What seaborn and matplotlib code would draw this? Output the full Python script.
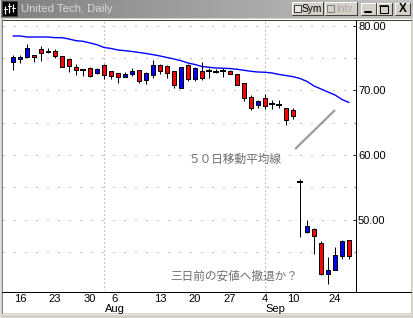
import numpy as np
import pandas as pd
import matplotlib
matplotlib.use("Agg")
import matplotlib.pyplot as plt
import seaborn as sns
from matplotlib.patches import Rectangle
from matplotlib.colors import LinearSegmentedColormap

# ---------------- data ----------------
dates = ["07-13", "07-16", "07-17", "07-18", "07-19", "07-20", "07-23", "07-24", "07-25", "07-26",
         "07-27", "07-30", "07-31", "08-01", "08-02", "08-03", "08-06", "08-07", "08-08", "08-09",
         "08-10", "08-13", "08-14", "08-15", "08-16", "08-17", "08-20", "08-21", "08-22", "08-23",
         "08-24", "08-27", "08-28", "08-29", "08-30", "08-31", "09-04", "09-05", "09-06", "09-07",
         "09-10", "09-17", "09-18", "09-19", "09-20", "09-21", "09-24", "09-25", "09-26"]
opens = [74.34, 74.90, 75.16, 75.47, 76.40, 76.08, 76.09, 75.27, 74.85, 73.60,
         73.15, 73.42, 72.74, 73.88, 73.00, 72.64, 72.12, 72.58, 73.15, 71.56,
         72.38, 73.93, 73.72, 72.95, 70.32, 73.97, 71.81, 73.00, 73.00, 72.89,
         73.04, 73.00, 72.53, 71.14, 68.98, 67.74, 68.82, 67.85, 67.74, 67.23,
         66.97, 55.89, 48.07, 48.53, 46.37, 41.58, 42.19, 44.45, 46.88]
highs = [75.42, 75.40, 77.20, 75.47, 76.80, 76.50, 76.40, 75.36, 74.85, 74.10,
         73.30, 73.66, 73.46, 74.03, 73.00, 72.64, 72.90, 73.40, 73.15, 72.80,
         74.65, 74.10, 73.90, 72.95, 73.57, 74.08, 73.62, 74.34, 73.42, 73.31,
         73.51, 73.15, 72.60, 71.14, 69.24, 68.47, 69.50, 68.56, 68.50, 67.23,
         67.33, 56.31, 49.97, 48.69, 46.68, 44.20, 45.75, 46.88, 46.88]
lows = [73.20, 74.28, 75.05, 74.44, 74.60, 75.83, 75.00, 73.57, 72.80, 72.40,
        72.30, 72.12, 72.58, 71.72, 71.72, 71.10, 72.12, 72.27, 71.10, 70.94,
        71.96, 72.58, 71.96, 70.40, 70.32, 71.45, 71.50, 71.60, 71.96, 72.64,
        72.12, 72.58, 70.83, 68.36, 66.97, 67.23, 67.08, 67.12, 67.23, 64.70,
        65.53, 47.39, 47.90, 44.76, 41.42, 40.03, 42.19, 43.99, 43.94]
closes = [75.16, 75.15, 76.55, 75.12, 75.73, 75.89, 75.27, 73.66, 73.72, 73.10,
          73.15, 72.27, 73.31, 72.38, 72.18, 72.12, 72.53, 73.00, 71.45, 72.64,
          73.93, 72.95, 72.64, 70.79, 73.57, 71.72, 73.42, 71.96, 73.00, 72.89,
          73.04, 72.58, 70.83, 68.87, 67.33, 68.31, 67.64, 67.85, 67.74, 65.47,
          66.04, 55.89, 49.00, 47.55, 41.58, 42.24, 44.51, 46.73, 44.45]
ma50 = [78.41, 78.41, 78.25, 78.25, 78.25, 78.25, 78.15, 78.15, 77.94, 77.68,
        77.59, 77.33, 77.06, 76.63, 76.48, 76.24, 76.14, 76.01, 75.86, 75.70,
        75.52, 75.32, 75.08, 74.85, 74.59, 74.23, 74.00, 73.69, 73.57, 73.46,
        73.42, 73.38, 73.26, 73.11, 72.95, 72.84, 72.80, 72.69, 72.46, 72.30,
        72.12, 71.84, 71.38, 70.68, 70.22, 69.75, 69.29, 68.59, 68.13]

day_tick_dates = ["07-16", "07-23", "07-30", "08-06", "08-13", "08-20", "08-27", "09-04", "09-10", "09-24"]
day_tick_labels = ["16", "23", "30", "6", "13", "20", "27", "4", "10", "24"]
month_dates = ["08-01", "09-04"]
month_labels = ["Aug", "Sep"]
y_major = [50, 60, 70, 80]
y_minor = [45, 55, 65, 75]

title_text = "United Tech, Daily"
ma_label = "５０日移動平均線"
comment = "三日前の安値へ撤退か？"

# ---------------- style ----------------
sns.set_theme(style="white")
plt.rcParams['font.family'] = ['Liberation Sans', 'Noto Sans CJK JP', 'DejaVu Sans']

PX = 0.72  # one pixel in points at dpi 100
W, H = 414, 318
fig = plt.figure(figsize=(W / 100, H / 100), dpi=100, facecolor='#d4d0c8')

# ---------- window chrome (pixel coordinate background axes) ----------
bg = fig.add_axes([0, 0, 1, 1], zorder=0)
bg.set_xlim(0, W)
bg.set_ylim(H, 0)
bg.axis('off')

grad = np.linspace(0, 1, 256).reshape(1, -1)
cmap = LinearSegmentedColormap.from_list('tb', ['#808080', '#c4c4c4'])
bg.imshow(grad, extent=(0, W, 18, 0), aspect='auto', cmap=cmap, zorder=0)
bg.set_xlim(0, W)
bg.set_ylim(H, 0)

# icon
bg.add_patch(Rectangle((2, 1), 15, 15, facecolor='black', edgecolor='#404040', lw=PX, zorder=1))
for xx, y0, y1 in [(5.5, 6, 14), (9.5, 3, 13), (13.5, 4, 12)]:
    bg.plot([xx, xx], [y0, y1], color='white', lw=1.2 * PX, zorder=2, solid_capstyle='butt')
bg.plot([4, 7], [9, 9], color='white', lw=PX, zorder=2)
bg.plot([8, 11], [6, 6], color='white', lw=PX, zorder=2)
bg.plot([12, 15], [8, 8], color='white', lw=PX, zorder=2)
bg.text(21, 9, title_text, color='#d8d8d8', fontsize=8.2, va='center', ha='left', zorder=2)


def button(x, y, w, h):
    bg.add_patch(Rectangle((x, y), w, h, facecolor='#d4d0c8', edgecolor='none', zorder=1))
    bg.plot([x, x + w], [y, y], color='white', lw=PX, zorder=2)
    bg.plot([x, x], [y, y + h], color='white', lw=PX, zorder=2)
    bg.plot([x, x + w], [y + h, y + h], color='#404040', lw=PX, zorder=2)
    bg.plot([x + w, x + w], [y, y + h], color='#404040', lw=PX, zorder=2)


button(292, 2, 31, 13)
bg.add_patch(Rectangle((294, 5), 7, 7, facecolor='#e8e8e8', edgecolor='#404040', lw=PX, zorder=3))
bg.text(302, 9, "Sym", fontsize=7.3, va='center', ha='left', color='black', zorder=3)
button(325, 2, 32, 13)
bg.add_patch(Rectangle((327, 5), 7, 7, facecolor='#d4d0c8', edgecolor='#808080', lw=PX, zorder=3))
bg.text(336.5, 9.5, "Intv", fontsize=7.3, va='center', ha='left', color='white', zorder=3)
bg.text(336, 9, "Intv", fontsize=7.3, va='center', ha='left', color='#9a9a9a', zorder=3)
button(361, 3, 15, 12)
bg.plot([365, 371], [12, 12], color='black', lw=2 * PX, zorder=3)
button(377, 3, 15, 12)
bg.add_patch(Rectangle((380.5, 5.5), 8, 7, facecolor='none', edgecolor='black', lw=PX, zorder=3))
bg.plot([380.5, 388.5], [6.2, 6.2], color='black', lw=1.5 * PX, zorder=3)
button(395, 3, 15, 12)
bg.text(402.5, 9.3, "X", fontsize=8.5, fontweight='bold', va='center', ha='center', color='black', zorder=3)

# white panel with sunken border
bg.add_patch(Rectangle((2, 19), 409, 294, facecolor='white', edgecolor='none', zorder=1))
bg.plot([2, 411], [19.5, 19.5], color='#404040', lw=PX, zorder=2)
bg.plot([2.5, 2.5], [19, 313], color='#808080', lw=PX, zorder=2)
bg.plot([2, 411], [313.5, 313.5], color='#e8e8e8', lw=PX, zorder=2)
bg.plot([0.5, 0.5], [0, 318], color='#e0e0e0', lw=PX, zorder=2)
# full-width bottom axis line
bg.plot([2, 411], [291.5, 291.5], color='black', lw=PX, zorder=3)

# ---------------- main chart ----------------
left_px, right_px, top_px, bottom_px = 3, 356, 20, 291
ax = fig.add_axes([left_px / W, (H - bottom_px) / H, (right_px - left_px) / W, (bottom_px - top_px) / H], zorder=2)
ax.patch.set_alpha(0)

x = np.arange(len(dates))
o = np.array(opens)
h = np.array(highs)
l = np.array(lows)
c = np.array(closes)
up = c > o + 0.02
down = c < o - 0.02
doji = ~(up | down)

# grid
for lv in y_major + y_minor:
    ax.axhline(lv, color='#8c8c8c', lw=PX, linestyle=(0, (1, 10)), zorder=1)
for md in month_dates:
    ax.axvline(dates.index(md), color='#8c8c8c', lw=PX, linestyle=(0, (1, 3)), zorder=1)

# moving average
sns.lineplot(x=x, y=ma50, ax=ax, color='#0000ff', lw=1.0, zorder=2, legend=False)

# candles
ax.vlines(x, l, h, color='black', lw=PX, zorder=3)
ax.bar(x[up], (c - o)[up], bottom=o[up], width=0.62, color='#0000ff', edgecolor='black', lw=PX, zorder=4)
ax.bar(x[down], (o - c)[down], bottom=c[down], width=0.62, color='#ff0000', edgecolor='black', lw=PX, zorder=4)
ax.hlines(o[doji], x[doji] - 0.36, x[doji] + 0.36, color='black', lw=2 * PX, zorder=4)

# annotations
ax.plot([40.3, 46.0], [60.93, 66.96], color='#a0a0a0', lw=1.7, zorder=2, solid_capstyle='butt')
ax.text(31.7, 59.3, ma_label, ha='center', va='center', fontsize=8.4, color='#6e6e6e',
        family=['Noto Sans CJK JP', 'DejaVu Sans'])
ax.text(31.6, 41.35, comment, ha='center', va='center', fontsize=8.4, color='#6e6e6e',
        family=['Noto Sans CJK JP', 'DejaVu Sans'])

ax.set_xlim(-1.43, 49.0)
ax.set_ylim(38.99, 80.88)
ax.set_xlabel('')
ax.set_ylabel('')

# axes frame
for s in ['top', 'left', 'bottom']:
    ax.spines[s].set_visible(False)
ax.spines['right'].set_color('black')
ax.spines['right'].set_linewidth(PX)

# y axis on the right
ax.yaxis.tick_right()
ax.set_yticks(y_major)
ax.set_yticklabels([f"{v:.2f}" for v in y_major])
ax.set_yticks(y_minor, minor=True)
ax.tick_params(axis='y', which='major', direction='in', length=3 * PX, width=PX, color='black',
               pad=1.5, labelsize=8, labelcolor='black', right=True, left=False)
ax.tick_params(axis='y', which='minor', direction='in', length=2.5 * PX, width=PX, color='#606060',
               right=True, left=False)
ax.set_xticks([])

# x labels (days & months)
label_shift_px = {"6": -11}
for d, lab in zip(day_tick_dates, day_tick_labels):
    ax.annotate(lab, xy=(dates.index(d), 0), xycoords=('data', 'axes fraction'),
                xytext=(label_shift_px.get(lab, 0) * PX, -8.5 * PX), textcoords='offset points',
                ha='center', va='center', fontsize=8, color='black', annotation_clip=False)
for d, lab in zip(month_dates, month_labels):
    ax.annotate(lab, xy=(dates.index(d), 0), xycoords=('data', 'axes fraction'),
                xytext=(0.5 * PX, -17.5 * PX), textcoords='offset points',
                ha='left', va='center', fontsize=8, color='black', annotation_clip=False)

fig.savefig('out.png', dpi=100, facecolor=fig.get_facecolor())
